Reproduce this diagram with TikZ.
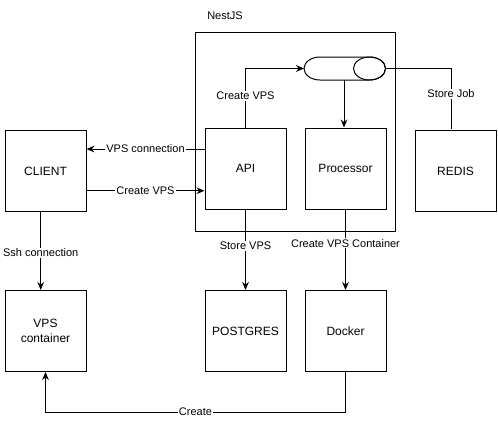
\documentclass[tikz,border=0pt]{standalone}
\usepackage{fontspec}
\setmainfont{Liberation Sans}
\usetikzlibrary{arrows.meta}

\tikzset{
  box/.style={draw, minimum width=60.75pt, minimum height=60.75pt, inner sep=0pt, align=center, font=\fontsize{9}{11}\selectfont},
  lbl/.style={fill=white, inner sep=0.75pt, font=\fontsize{8.25}{10}\selectfont},
  arr/.style={-{Stealth[length=6pt,width=5pt]}},
}

\begin{document}
\begin{tikzpicture}[x=0.75pt,y=0.75pt,yscale=-1,xscale=1,line width=0.75pt]
    \useasboundingbox (0,0) rectangle (498,421);

    %Shape: Rectangle [NestJS]
    \draw (195,32) rectangle (395,231);
    % Text Node
    \draw (225,16) node [inner sep=0.75pt, font=\fontsize{8.25}{10}\selectfont] (nestlbl) {NestJS};

    %Shape: Queue
    \draw (320,57) -- (369.5,57) arc [start angle=-90, end angle=90, x radius=16, y radius=11.5] -- (320,80) arc [start angle=90, end angle=270, x radius=16, y radius=11.5] -- cycle;
    \draw (369.5,68.5) ellipse [x radius=16, y radius=11.5];
    \coordinate (queuew) at (304,68.5);
    \coordinate (queuee) at (385.5,68.5);
    \coordinate (queues) at (344,80);

    % Boxes
    \draw (245.5,168.5) node [box] (api) {API};
    \draw (345.5,168.5) node [box] (proc) {Processor};
    \draw (455.5,171) node [box] (redis) {REDIS};
    \draw (45.5,171) node [box] (client) {CLIENT};
    \draw (45.5,331) node [box] (vps) {VPS\\container};
    \draw (245.5,331) node [box] (pg) {POSTGRES};
    \draw (345.5,331) node [box] (docker) {Docker};
    \coordinate (redisin) at (451,129);

    %Connectors
    \draw [arr] (api.north) |- node [pos=0.27, lbl] {Create VPS} (queuew);
    \draw [arr] (queues) -- (queues |- proc.north);
    \draw (queuee) -| node [pos=0.71, lbl] {Store Job} (redisin);
    \draw [arr] ([yshift=-14.6pt]api.west) -- node [lbl] {VPS connection} ([yshift=-14.6pt]api.west -| client.east);
    \draw [arr] ([yshift=14.8pt]client.east) -- node [lbl] {Create VPS} ([yshift=14.8pt]client.east -| api.west);
    \draw [arr] ([xshift=-3.6pt]client.south) -- node [pos=0.52, lbl] {Ssh connection} ([xshift=-3.6pt]vps.north);
    \draw [arr] (api.south) -- node [pos=0.45, lbl] {Store VPS} (pg.north);
    \draw [arr] (proc.south) -- node [pos=0.42, lbl] {Create VPS Container} (docker.north);
    \draw [arr] (docker.south) -- ++(0,40) -| node [pos=0.25, lbl] {Create} (vps.south);

\end{tikzpicture}
\end{document}
